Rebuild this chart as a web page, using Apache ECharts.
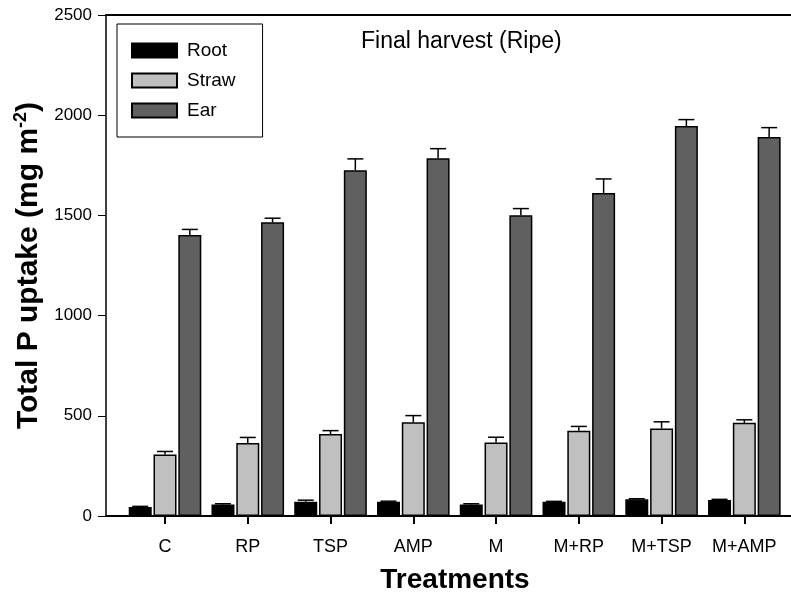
<!DOCTYPE html>
<html>
<head>
<meta charset="utf-8">
<script src="https://cdn.jsdelivr.net/npm/echarts@6/dist/echarts.min.js"></script>
<style>html,body{margin:0;padding:0;background:#fff;}#main{width:791px;height:593px;}</style>
</head>
<body>
<div id="main"></div>
<script>
const categories = ['C', 'RP', 'TSP', 'AMP', 'M', 'M+RP', 'M+TSP', 'M+AMP'];
const rootVals  = [45, 58, 71, 71, 58, 71, 83, 80];
const rootErr   = [3, 3, 8, 3, 3, 2, 3, 3];
const strawVals = [307, 364, 409, 468, 367, 425, 437, 465];
const strawErr  = [15, 28, 17, 33, 26, 22, 33, 15];
const earVals   = [1402, 1466, 1725, 1785, 1501, 1612, 1946, 1891];
const earErr    = [28, 20, 57, 48, 33, 70, 32, 47];
const yTicks    = [0, 500, 1000, 1500, 2000, 2500];
const seriesNames = ['Root', 'Straw', 'Ear'];

const FONT = 'Liberation Sans, Arial, sans-serif';
const BAR_W = 23, BAR_GAP = 1.8;
const catPos = categories.map((c, i) => i + 1);

function barData(vals) { return vals.map((v, i) => [catPos[i], v]); }
function errData(vals, errs) { return vals.map((v, i) => [catPos[i], v, errs[i]]); }

function errSeries(vals, errs, offset) {
  return {
    type: 'custom',
    xAxisIndex: 0, yAxisIndex: 0,
    z: 5,
    silent: true,
    data: errData(vals, errs),
    renderItem: function (params, api) {
      const x = api.value(0), y = api.value(1), e = api.value(2);
      const p = api.coord([x, y]);
      const t = api.coord([x, y + e]);
      const cx = p[0] + offset;
      const st = { stroke: '#000', lineWidth: 1.5 };
      return {
        type: 'group',
        children: [
          { type: 'line', shape: { x1: cx, y1: p[1], x2: cx, y2: t[1] }, style: st },
          { type: 'line', shape: { x1: cx - 8, y1: t[1], x2: cx + 8, y2: t[1] }, style: st }
        ]
      };
    }
  };
}

function barSeries(name, vals, color) {
  return {
    name: name,
    type: 'bar',
    xAxisIndex: 0, yAxisIndex: 0,
    barWidth: BAR_W,
    barGap: (BAR_GAP / BAR_W * 100).toFixed(1) + '%',
    data: barData(vals),
    itemStyle: { color: color, borderColor: '#000', borderWidth: 1.5 }
  };
}

const chart = echarts.init(document.getElementById('main'), null, { renderer: 'canvas' });
const step = BAR_W + BAR_GAP;
chart.setOption({
  animation: false,
  backgroundColor: '#fff',
  textStyle: { fontFamily: FONT, color: '#000' },
  title: {
    text: 'Final harvest (Ripe)',
    left: 361, top: 30,
    padding: 0,
    textStyle: { fontFamily: FONT, fontSize: 23, fontWeight: 'normal', color: '#000' }
  },
  legend: {
    data: seriesNames.map(n => ({ name: n, icon: 'rect' })),
    orient: 'vertical',
    left: 117, top: 24,
    padding: [17, 27, 17, 14],
    itemWidth: 45, itemHeight: 14, itemGap: 11,
    borderColor: '#000', borderWidth: 1,
    selectedMode: false,
    textStyle: { fontFamily: FONT, fontSize: 19, color: '#000', padding: [0, 0, 0, 5] }
  },
  grid: { left: 106, right: -3, top: 15, bottom: 77, containLabel: false, outerBoundsMode: 'none' },
  xAxis: [{
    type: 'value',
    min: 0.287, max: 8.6,
    position: 'bottom',
    splitLine: { show: false },
    axisLine: { show: true, onZero: false, lineStyle: { color: '#000', width: 2 } },
    axisTick: { show: true, customValues: catPos, length: 8, lineStyle: { color: '#000', width: 2 } },
    axisLabel: {
      customValues: catPos, margin: 22,
      fontFamily: FONT, fontSize: 18, color: '#000',
      formatter: function (v) { return categories[Math.round(v) - 1] || ''; }
    },
    name: 'Treatments',
    nameLocation: 'middle',
    nameGap: 50,
    nameTextStyle: { fontFamily: FONT, fontSize: 28, fontWeight: 'bold', color: '#000', padding: [0, 0, 0, 10] }
  }, {
    type: 'value',
    min: 0.287, max: 8.6,
    position: 'top',
    splitLine: { show: false },
    axisLine: { show: true, onZero: false, lineStyle: { color: '#000', width: 2 } },
    axisTick: { show: false },
    axisLabel: { show: false }
  }],
  yAxis: {
    type: 'value',
    min: 0, max: 2500, interval: 500,
    splitLine: { show: false },
    axisLine: { show: true, lineStyle: { color: '#000', width: 1.5 } },
    axisTick: { show: true, length: 8, lineStyle: { color: '#000', width: 1 } },
    axisLabel: {
      margin: 14, fontFamily: FONT, fontSize: 17, color: '#000',
      customValues: yTicks,
      formatter: function (v) { return String(v); }
    },
    name: 'Total P uptake (mg m{sup|-2})',
    nameLocation: 'middle',
    nameGap: 58,
    nameRotate: 90,
    nameTextStyle: {
      fontFamily: FONT, fontSize: 30, fontWeight: 'bold', color: '#000',
      rich: {
        sup: { fontFamily: FONT, fontSize: 18, fontWeight: 'bold', color: '#000', padding: [0, 0, 14, 0] }
      }
    }
  },
  series: [
    barSeries('Root', rootVals, '#000000'),
    barSeries('Straw', strawVals, '#c0c0c0'),
    barSeries('Ear', earVals, '#606060'),
    errSeries(rootVals, rootErr, -step),
    errSeries(strawVals, strawErr, 0),
    errSeries(earVals, earErr, step)
  ]
});
</script>
</body>
</html>
